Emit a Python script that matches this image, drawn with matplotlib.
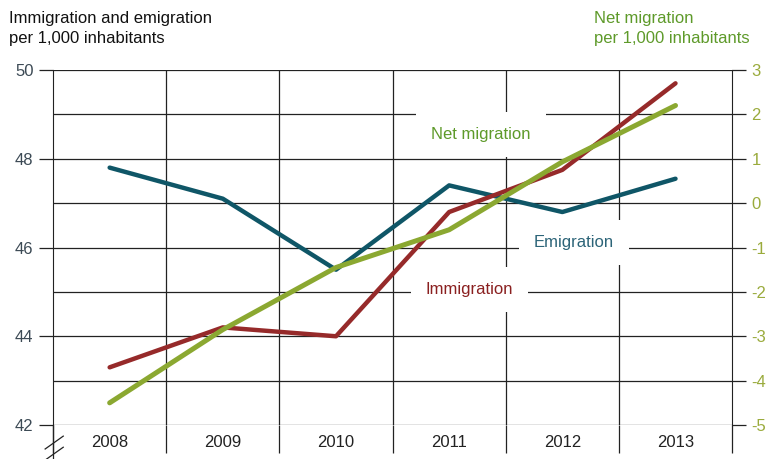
import numpy as np
import matplotlib.pyplot as plt
from matplotlib.ticker import MultipleLocator

years = ["2008", "2009", "2010", "2011", "2012", "2013"]
emigration = [47.8, 47.1, 45.5, 47.4, 46.8, 47.55]
immigration = [43.3, 44.2, 44.0, 46.8, 47.75, 49.7]
net_migration = [-4.5, -2.85, -1.45, -0.6, 0.93, 2.2]

c_emi = "#0f5667"
c_imm = "#962a2a"
c_net = "#8ba831"

plt.rcParams["font.family"] = ["Liberation Sans", "DejaVu Sans"]

fig = plt.figure(figsize=(7.69, 4.59), dpi=100)
ax = fig.add_axes([0.069, 0.074, 0.883, 0.7735])
x = np.arange(len(years))

# grid
ax.set_xlim(-0.5, 5.5)
ax.set_ylim(42, 50)
for yv in np.arange(42, 51, 1):
    ax.axhline(yv, color="#222222", lw=0.9, zorder=1)
for xv in np.arange(0.5, 5.5, 1):
    ax.axvline(xv, color="#222222", lw=0.9, zorder=1)

ax.plot(x, emigration, color=c_emi, lw=3.2, solid_capstyle="round", zorder=3)
ax.plot(x, immigration, color=c_imm, lw=3.2, solid_capstyle="round", zorder=3)

ax2 = ax.twinx()
ax2.set_ylim(-5, 3)
ax2.plot(x, net_migration, color=c_net, lw=3.6, solid_capstyle="round", zorder=4)

for a in (ax, ax2):
    for s in a.spines.values():
        s.set_visible(False)
ax.spines["left"].set_visible(True)
ax.spines["left"].set_color("#222222")
ax2.spines["right"].set_visible(True)
ax2.spines["right"].set_color("#222222")

ax.yaxis.set_major_locator(MultipleLocator(2))
ax.tick_params(axis="y", length=10, width=0.9, color="#222222", labelsize=12,
               labelcolor="#3c4a55", pad=4)
ax2.tick_params(axis="y", length=10, width=0.9, color="#222222", labelsize=12,
                labelcolor="#9aab3c", pad=4)
ax2.set_yticks(np.arange(-5, 4, 1))
ax2.set_yticklabels([str(v) for v in range(-5, 4)])

ax.set_xticks(x)
ax.set_xticklabels(years)
ax.set_xticks(np.arange(-0.5, 6.0, 1), minor=True)
ax.tick_params(axis="x", which="major", length=0, labelsize=12, labelcolor="#222222", pad=7)
ax.tick_params(axis="x", which="minor", length=20, width=0.9, color="#222222")

# left spine runs on below the axis, crossed by a break mark
ax.plot([-0.5, -0.5], [42, 41.2], color="#222222", lw=0.9, clip_on=False, zorder=5)
for y0 in (41.52, 41.27):
    ax.plot([-0.57, -0.41], [y0 - 0.06, y0 + 0.23], color="#222222", lw=0.9,
            clip_on=False, zorder=5)

# inline labels with white boxes
lbl_box = dict(facecolor="white", edgecolor="none", boxstyle="square,pad=0.9")
ax.text(3.28, 48.55, "Net migration", color="#5e9a2a", fontsize=12, ha="center",
        va="center", bbox=lbl_box, zorder=6)
ax2.text(4.1, -0.88, "Emigration", color="#2c6478", fontsize=12, ha="center",
         va="center", bbox=lbl_box, zorder=6)
ax2.text(3.18, -1.95, "Immigration", color="#8a2020", fontsize=12, ha="center",
         va="center", bbox=lbl_box, zorder=6)

fig.text(0.012, 0.975, "Immigration and emigration\nper 1,000 inhabitants", fontsize=12,
         color="#111111", ha="left", va="top", linespacing=1.35)
fig.text(0.772, 0.975, "Net migration\nper 1,000 inhabitants", fontsize=12,
         color="#5e9a2a", ha="left", va="top", linespacing=1.35)

fig.savefig("out.png", dpi=100)
